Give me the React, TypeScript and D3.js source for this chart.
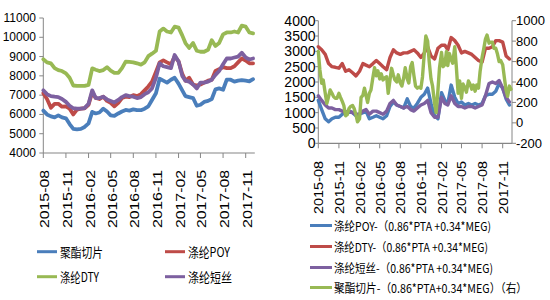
import React from "react";
import * as d3 from "d3";

// ---------- data ----------
const tickMonths = ["2015-08", "2015-11", "2016-02", "2016-05", "2016-08", "2016-11", "2017-02", "2017-05", "2017-08", "2017-11"];
const leftYTicks = [4000, 5000, 6000, 7000, 8000, 9000, 10000, 11000];
const rightYTicks = [0, 500, 1000, 1500, 2000, 2500, 3000, 3500, 4000];
const rightY2Ticks = [-200, 0, 200, 400, 600, 800, 1000];

const leftNames = ["聚酯切片", "涤纶POY", "涤纶DTY", "涤纶短丝"];
const rightNames = [
  "涤纶POY-（0.86*PTA +0.34*MEG)",
  "涤纶DTY-（0.86*PTA +0.34*MEG)",
  "涤纶短丝-（0.86*PTA +0.34*MEG)",
  "聚酯切片-（0.86*PTA+0.34*MEG）（右）",
];

// left chart, half-month points from 2015-08
const leftChip = [6200, 6000, 5900, 5850, 5950, 5850, 5800, 5500, 5250, 5220, 5250, 5350, 5540, 6130, 6050, 6100, 6300, 6150, 5950, 5920, 6050, 6150, 6230, 6200, 6260, 6220, 6220, 6300, 6420, 6750, 7100, 7850, 7750, 7650, 7800, 7900, 7600, 7250, 6950, 6900, 6850, 6450, 6500, 6650, 6700, 6800, 7300, 7350, 7280, 7800, 7800, 7700, 7750, 7780, 7750, 7720, 7830];
const leftPoy = [7100, 6800, 6350, 6550, 6550, 6400, 6420, 6300, 6000, 6250, 6300, 6320, 6500, 7150, 6850, 6800, 6920, 6700, 6600, 6420, 6600, 6850, 6920, 6900, 7000, 6950, 7050, 7250, 7450, 7700, 8200, 8700, 8800, 8700, 8600, 9000, 8750, 8100, 7750, 7900, 7550, 7500, 7550, 7650, 7750, 7800, 8250, 8350, 8450, 8400, 8400, 8500, 8700, 8900, 8800, 8650, 8650];
const leftDty = [8860, 8700, 8650, 8400, 8300, 8250, 8130, 7900, 7500, 7480, 7480, 7480, 7530, 8390, 8320, 8250, 8300, 8450, 8270, 8150, 8150, 8400, 8740, 8720, 8700, 8650, 8580, 8700, 9020, 9150, 9300, 10300, 10450, 10300, 10250, 10550, 10500, 10100, 9700, 9450, 9700, 9300, 9250, 9250, 9350, 9850, 9550, 9700, 10150, 10250, 10250, 10300, 10250, 10600, 10550, 10250, 10200];
const leftStaple = [7250, 7050, 6950, 6920, 6900, 6800, 6650, 6450, 6320, 6300, 6300, 6330, 6550, 7250, 6850, 6850, 6920, 6780, 6700, 6620, 6750, 6900, 7000, 6950, 6920, 6850, 6900, 7050, 7150, 7350, 7900, 8650, 8500, 8450, 8400, 9080, 8750, 8000, 7750, 7700, 7550, 7350, 7650, 7650, 7700, 7800, 8050, 8250, 8600, 8900, 8900, 8950, 9000, 9200, 8950, 8850, 8900];

// right chart, half-month points (left axis)
const rightPoy = [1400, 1100, 800, 700, 800, 850, 850, 950, 1000, 1050, 1000, 900, 950, 1000, 1050, 800, 850, 900, 850, 800, 900, 1200, 1350, 1250, 1200, 1150, 1450, 1200, 1150, 1300, 1500, 1600, 1800, 1300, 900, 800, 1650, 1400, 1300, 1900, 1500, 1300, 1350, 1250, 1300, 1250, 1300, 1250, 1300, 1550, 1600, 1600, 1700, 1950, 1800, 1450, 1250];
const rightDty = [3150, 3050, 2900, 2600, 2500, 2480, 2450, 2600, 2350, 2400, 2300, 2200, 2350, 2600, 2550, 2500, 2600, 2700, 2600, 2500, 2400, 2800, 3050, 2950, 2900, 2950, 2950, 3000, 3050, 2950, 2800, 2950, 3150, 2850, 2750, 3100, 3200, 3200, 3050, 3450, 3350, 3200, 2950, 3000, 2950, 2900, 2800, 2700, 2650, 3100, 3100, 3150, 3350, 3350, 3300, 2850, 2750];
const rightStaple = [1550, 1400, 1250, 1150, 1150, 1100, 1100, 1050, 1000, 1050, 1000, 950, 950, 1050, 1100, 950, 1050, 1050, 1000, 950, 1050, 1300, 1400, 1250, 1200, 1150, 1200, 1100, 1050, 1150, 1250, 1300, 1400, 1000, 850, 850, 1500, 1300, 1250, 1550, 1300, 1200, 1200, 1150, 1200, 1200, 1150, 1200, 1250, 1550, 1950, 2000, 1950, 2050, 1800, 1500, 1350];
// right chart, quarter-month points (right axis)
const rightChip = [700, 520, 387, 420, 289, 190, 257, 322, 290, 257, 240, 240, 289, 250, 210, 170, 70, 80, 140, 160, 170, 140, 80, 10, 40, 250, 270, 340, 270, 200, 290, 322, 450, 540, 460, 510, 430, 480, 420, 440, 452, 289, 420, 534, 469, 420, 400, 470, 390, 360, 440, 540, 430, 390, 550, 590, 460, 360, 340, 350, 340, 450, 680, 850, 800, 600, 430, 360, 190, 100, 320, 540, 690, 550, 570, 700, 560, 680, 620, 583, 746, 550, 290, 410, 240, 380, 345, 300, 410, 380, 330, 370, 310, 370, 340, 500, 640, 720, 820, 860, 780, 790, 790, 730, 730, 680, 600, 610, 570, 450, 320, 260, 360, 330];

// ---------- style ----------
const BLUE = "#4A7EBB";
const RED = "#BE4B48";
const GREEN = "#98B954";
const PURPLE = "#7D60A0";
const AXIS = "#868686";
const FONT = "'Liberation Sans', Arial, sans-serif";
const CJK = "'Noto Sans CJK SC', 'Liberation Sans', sans-serif";

const parseMonth = (s: string) => {
  const [y, m] = s.split("-").map(Number);
  return new Date(y, m - 1, 1);
};
const halfDate = (i: number) => new Date(2015, 7 + Math.floor(i / 2), i % 2 ? 16 : 1);
const quarterDate = (i: number) => new Date(2015, 7 + Math.floor(i / 4), [1, 8, 16, 23][i % 4]);

export default function App() {
  const tickDates = tickMonths.map(parseMonth);
  const endDate = new Date(2017, 11, 8);

  const xL = d3.scaleTime().domain([tickDates[0], tickDates[tickDates.length - 1]]).range([43.3, 245.7]);
  const yL = d3.scaleLinear().domain([4000, 11000]).range([153, 18]);
  const xR = d3.scaleTime().domain([tickDates[0], tickDates[tickDates.length - 1]]).range([318.3, 502.7]);
  const yR = d3.scaleLinear().domain([0, 4000]).range([143.3, 20.7]);
  const yR2 = d3.scaleLinear().domain([-200, 1000]).range([143.3, 20.7]);

  const lineL = d3.line<number>().x((_, i) => xL(halfDate(i))).y((d) => yL(d));
  const lineRh = d3.line<number>().x((_, i) => xR(halfDate(i))).y((d) => yR(d));
  const lineRq = d3.line<number>().x((_, i) => xR(quarterDate(i))).y((d) => yR2(d));

  const leftSeries = [
    { data: leftChip, color: BLUE },
    { data: leftPoy, color: RED },
    { data: leftDty, color: GREEN },
    { data: leftStaple, color: PURPLE },
  ];

  const lx0 = xL.range()[0];
  const lx1 = xL(endDate);
  const ly0 = yL.range()[0];
  const rx0 = xR.range()[0];
  const rx1 = 512;
  const ry0 = yR.range()[0];

  const leftLegend = [
    { x: 37, y: 251.7, len: 43 },
    { x: 165, y: 251.7, len: 42 },
    { x: 37, y: 276.7, len: 39 },
    { x: 165, y: 276.7, len: 44 },
  ];
  const leftColors = [BLUE, RED, GREEN, PURPLE];
  const rightLegend = [
    { y: 225.5, len: 157 },
    { y: 246.5, len: 154 },
    { y: 267.5, len: 159 },
    { y: 287.5, len: 193 },
  ];
  const rightColors = [BLUE, RED, PURPLE, GREEN];

  return (
    <svg width={550} height={300} style={{ position: "absolute", left: 0, top: 0, background: "#fff" }}>
      <rect x={0} y={0} width={550} height={300} fill="#fff" />
      {/* ===== LEFT CHART ===== */}
      <g>
        <line x1={lx0} x2={lx0} y1={yL(11000)} y2={ly0} stroke={AXIS} strokeWidth={1} />
        {leftYTicks.map((t) => (
          <g key={t}>
            <line x1={lx0 - 4} x2={lx0} y1={yL(t)} y2={yL(t)} stroke={AXIS} />
            <text x={36} y={yL(t)} textAnchor="end" dominantBaseline="central" fontFamily={FONT} fontSize={12} fill="#000">
              {t}
            </text>
          </g>
        ))}
        <line x1={lx0} x2={lx1} y1={ly0} y2={ly0} stroke={AXIS} strokeWidth={1.2} />
        {tickDates.map((d, i) => (
          <g key={i}>
            <line x1={xL(d)} x2={xL(d)} y1={ly0} y2={ly0 + 5} stroke={AXIS} />
            <text
              transform={`translate(${xL(d) + 1.5},170) rotate(-90)`}
              textAnchor="end"
              dominantBaseline="central"
              fontFamily={FONT}
              fontSize={13}
              textLength={58}
              lengthAdjust="spacingAndGlyphs"
              fill="#000"
            >
              {tickMonths[i]}
            </text>
          </g>
        ))}
        {leftSeries.map((s, i) => (
          <path key={i} d={lineL(s.data) || ""} fill="none" stroke={s.color} strokeWidth={3.8} strokeLinejoin="round" strokeLinecap="round" />
        ))}
        {leftLegend.map((l, i) => (
          <g key={i}>
            <line x1={l.x} x2={l.x + 20} y1={l.y} y2={l.y} stroke={leftColors[i]} strokeWidth={3} />
            <text x={l.x + 23} y={l.y} dominantBaseline="central" fontFamily={CJK} fontSize={13} textLength={l.len} lengthAdjust="spacingAndGlyphs" fill="#000">
              {leftNames[i]}
            </text>
          </g>
        ))}
      </g>

      {/* ===== RIGHT CHART ===== */}
      <g>
        <line x1={rx0} x2={rx0} y1={yR(4000)} y2={ry0} stroke={AXIS} strokeWidth={1} />
        {rightYTicks.map((t) => (
          <g key={t}>
            <line x1={rx0 - 3} x2={rx0} y1={yR(t)} y2={yR(t)} stroke={AXIS} />
            <text x={315.5} y={yR(t)} textAnchor="end" dominantBaseline="central" fontFamily={FONT} fontSize={14} fill="#000">
              {t}
            </text>
          </g>
        ))}
        <line x1={rx1} x2={rx1} y1={yR2(1000)} y2={ry0} stroke={AXIS} strokeWidth={1} />
        {rightY2Ticks.map((t) => (
          <g key={t}>
            <line x1={rx1} x2={rx1 + 4} y1={yR2(t)} y2={yR2(t)} stroke={AXIS} />
            <text x={516} y={yR2(t)} textAnchor="start" dominantBaseline="central" fontFamily={FONT} fontSize={13} fill="#000">
              {t}
            </text>
          </g>
        ))}
        <line x1={rx0} x2={rx1} y1={ry0} y2={ry0} stroke={AXIS} strokeWidth={1.2} />
        {tickDates.map((d, i) => (
          <g key={i}>
            <line x1={xR(d)} x2={xR(d)} y1={ry0} y2={ry0 + 5} stroke={AXIS} />
            <text
              transform={`translate(${xR(d) + 1},161) rotate(-90)`}
              textAnchor="end"
              dominantBaseline="central"
              fontFamily={FONT}
              fontSize={12.5}
              textLength={53}
              lengthAdjust="spacingAndGlyphs"
              fill="#000"
            >
              {tickMonths[i]}
            </text>
          </g>
        ))}
        <path d={lineRh(rightPoy) || ""} fill="none" stroke={BLUE} strokeWidth={3.4} strokeLinejoin="round" strokeLinecap="round" />
        <path d={lineRh(rightDty) || ""} fill="none" stroke={RED} strokeWidth={3.4} strokeLinejoin="round" strokeLinecap="round" />
        <path d={lineRh(rightStaple) || ""} fill="none" stroke={PURPLE} strokeWidth={3.4} strokeLinejoin="round" strokeLinecap="round" />
        <path d={lineRq(rightChip) || ""} fill="none" stroke={GREEN} strokeWidth={3.4} strokeLinejoin="round" strokeLinecap="round" />
        {rightLegend.map((l, i) => (
          <g key={i}>
            <line x1={310} x2={332} y1={l.y} y2={l.y} stroke={rightColors[i]} strokeWidth={3} />
            <text x={334} y={l.y} dominantBaseline="central" fontFamily={CJK} fontSize={12} textLength={l.len} lengthAdjust="spacingAndGlyphs" fill="#000">
              {rightNames[i]}
            </text>
          </g>
        ))}
      </g>
    </svg>
  );
}
